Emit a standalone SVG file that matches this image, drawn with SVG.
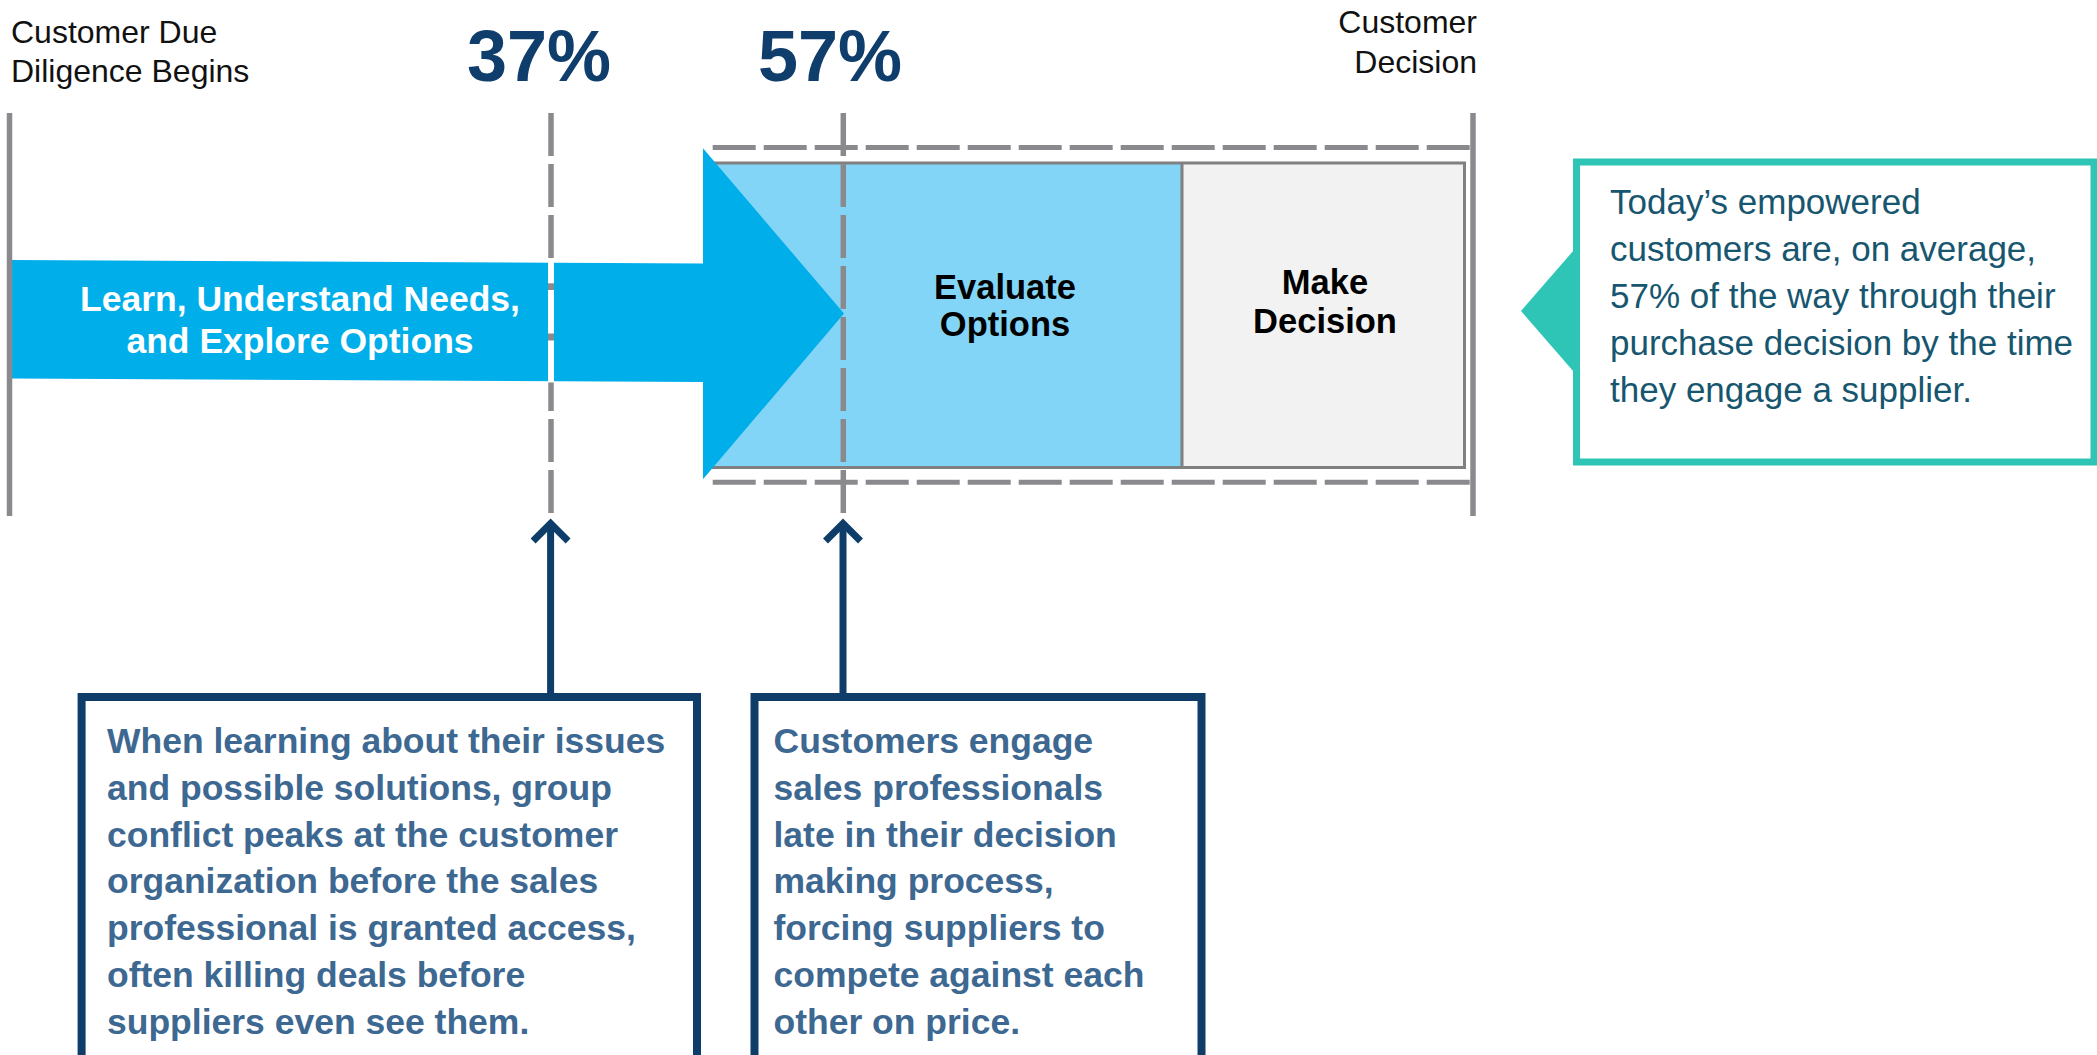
<svg xmlns="http://www.w3.org/2000/svg" width="2097" height="1055" viewBox="0 0 2097 1055">
  <style>
    text { font-family: "Liberation Sans", Arial, sans-serif; }
    .lbl { font-size: 32px; fill: #111111; }
    .pct { font-size: 72px; font-weight: bold; fill: #0f3e6c; text-anchor: middle; }
    .stage { font-size: 34.5px; font-weight: bold; fill: #000000; text-anchor: middle; }
    .learn { font-size: 35.5px; font-weight: bold; fill: #ffffff; text-anchor: middle; }
    .note { font-size: 35.5px; font-weight: bold; fill: #3d6891; }
    .callout-text { font-size: 35px; fill: #17566f; }
    .solid { stroke: #8a8a8e; stroke-width: 5.5; fill: none; }
    .dash-v { stroke: #8a8a8e; stroke-width: 5.5; stroke-dasharray: 43 8; fill: none; }
    .dash-h { stroke: #8a8a8e; stroke-width: 5; stroke-dasharray: 43 8; fill: none; }
    .note-box { fill: #ffffff; stroke: #0e3d69; stroke-width: 8; }
    .pointer { stroke: #0e3d69; stroke-width: 7; fill: none; }
  </style>
  <defs>
    <marker id="chevron" markerUnits="userSpaceOnUse" orient="auto" refX="0" refY="0" markerWidth="60" markerHeight="60" overflow="visible">
      <path d="M -17.5 -17.5 L 0 0 L -17.5 17.5" fill="none" stroke="#0e3d69" stroke-width="7" stroke-linejoin="miter"/>
    </marker>
  </defs>

  <rect width="2097" height="1055" fill="#ffffff"/>

  <!-- stage box: evaluate + make decision -->
  <g id="evaluate">
    <rect x="712" y="163" width="470" height="304.5" fill="#82d5f6"/>
    <text class="stage" x="1005" y="299">Evaluate</text>
    <text class="stage" x="1005" y="336">Options</text>
  </g>
  <g id="make-decision">
    <rect x="1182" y="163" width="282.5" height="304.5" fill="#f2f2f2"/>
    <text class="stage" x="1325" y="293.5">Make</text>
    <text class="stage" x="1325" y="332.5">Decision</text>
  </g>
  <rect x="712" y="163" width="752.5" height="304.5" fill="none" stroke="#808080" stroke-width="3"/>
  <line x1="1182" y1="163" x2="1182" y2="467.5" stroke="#808080" stroke-width="3"/>

  <!-- big learning arrow -->
  <g id="learn-arrow">
    <path d="M 12 260 L 703 263.5 L 703 148.3 L 844 313.5 L 703 479.3 L 703 382 L 12 378.5 Z" fill="#00aeea"/>
    <text class="learn" x="300" y="311">Learn, Understand Needs,</text>
    <text class="learn" x="300" y="353">and Explore Options</text>
  </g>

  <!-- timeline guides -->
  <g id="guides">
    <line class="solid" x1="9.5" y1="113" x2="9.5" y2="516"/>
    <line class="solid" x1="1473" y1="113" x2="1473" y2="516"/>
    <line class="dash-h" x1="712.7" y1="147.5" x2="1470" y2="147.5"/>
    <line class="dash-h" x1="712.7" y1="482.3" x2="1470" y2="482.3"/>
    <line class="dash-v" x1="551" y1="113" x2="551" y2="514"/>
    <line class="dash-v" x1="843.3" y1="113" x2="843.3" y2="514"/>
    <!-- break of the 37% guide across the arrow body -->
    <line x1="551" y1="261.5" x2="551" y2="382.5" stroke="#ffffff" stroke-width="6"/>
    <rect x="548" y="283.3" width="6" height="6.7" fill="#8a8a8e"/>
    <rect x="548" y="333.5" width="6" height="7" fill="#8a8a8e"/>
  </g>

  <!-- milestone labels -->
  <g id="label-start">
    <text class="lbl" x="11" y="43.3">Customer Due</text>
    <text class="lbl" x="11" y="81.7">Diligence Begins</text>
  </g>
  <g id="label-end">
    <text class="lbl" x="1477" y="32.7" text-anchor="end">Customer</text>
    <text class="lbl" x="1477" y="72.7" text-anchor="end">Decision</text>
  </g>
  <g id="pct-37">
    <text class="pct" x="539" y="81">37%</text>
  </g>
  <g id="pct-57">
    <text class="pct" x="830" y="81">57%</text>
  </g>

  <!-- teal callout -->
  <g id="callout">
    <path d="M 1521 311 L 1577 246.5 L 1577 375.5 Z" fill="#2ec4b6"/>
    <rect x="1576.5" y="162" width="517.5" height="300" fill="#ffffff" stroke="#2ec4b6" stroke-width="7"/>
    <text class="callout-text" x="1610" y="214">Today’s empowered</text>
    <text class="callout-text" x="1610" y="261">customers are, on average,</text>
    <text class="callout-text" x="1610" y="308">57% of the way through their</text>
    <text class="callout-text" x="1610" y="355">purchase decision by the time</text>
    <text class="callout-text" x="1610" y="402">they engage a supplier.</text>
  </g>

  <!-- note boxes -->
  <g id="note-37">
    <rect class="note-box" x="81.6" y="697" width="615.4" height="400"/>
    <text class="note" x="107" y="753">When learning about their issues</text>
    <text class="note" x="107" y="800">and possible solutions, group</text>
    <text class="note" x="107" y="847">conflict peaks at the customer</text>
    <text class="note" x="107" y="893">organization before the sales</text>
    <text class="note" x="107" y="940">professional is granted access,</text>
    <text class="note" x="107" y="987">often killing deals before</text>
    <text class="note" x="107" y="1034">suppliers even see them.</text>
  </g>
  <g id="note-57">
    <rect class="note-box" x="754.5" y="697" width="447" height="400"/>
    <text class="note" x="773.5" y="753">Customers engage</text>
    <text class="note" x="773.5" y="800">sales professionals</text>
    <text class="note" x="773.5" y="847">late in their decision</text>
    <text class="note" x="773.5" y="893">making process,</text>
    <text class="note" x="773.5" y="940">forcing suppliers to</text>
    <text class="note" x="773.5" y="987">compete against each</text>
    <text class="note" x="773.5" y="1034">other on price.</text>
  </g>

  <!-- connectors from notes to the timeline -->
  <g id="connectors">
    <line class="pointer" x1="550.6" y1="697" x2="550.6" y2="523.5" marker-end="url(#chevron)"/>
    <line class="pointer" x1="843" y1="697" x2="843" y2="523.5" marker-end="url(#chevron)"/>
  </g>
</svg>
